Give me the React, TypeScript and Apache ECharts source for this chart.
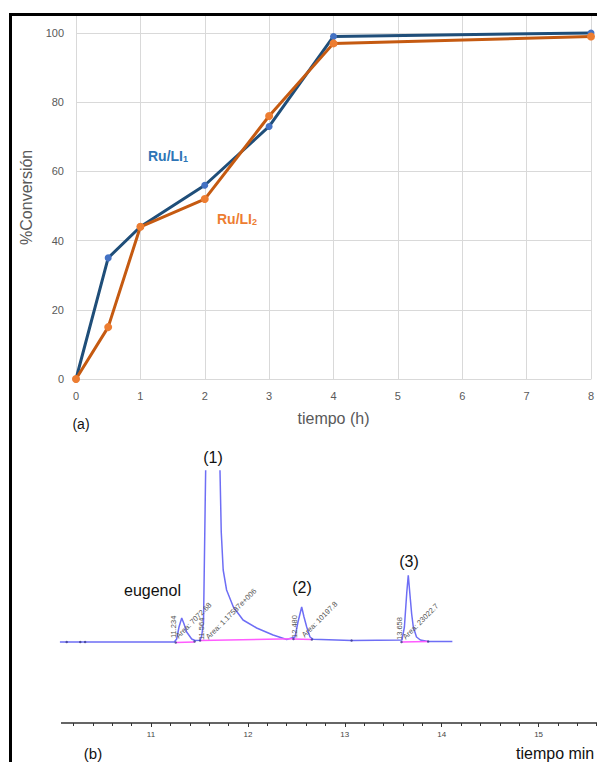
import React, { useEffect, useRef } from "react";
import * as echarts from "echarts";

// ---- Panel (a): conversion vs time ----
const timeHours = [0, 0.5, 1, 2, 3, 4, 8];
const conversionRuLI1 = [0, 35, 44, 56, 73, 99, 100];
const conversionRuLI2 = [0, 15, 44, 52, 76, 97, 99];
const seriesNames = ["Ru/LI1", "Ru/LI2"];

// ---- Panel (b): chromatogram (arbitrary signal units, baseline = 0) ----
const chromTime = [10.06, 11.24, 11.265, 11.289, 11.317, 11.341, 11.368, 11.42, 11.454, 11.506, 11.523, 11.542, 11.564, 11.64, 11.712, 11.725, 11.745, 11.78, 11.85, 11.95, 12.09, 12.26, 12.4, 12.486, 12.517, 12.555, 12.579, 12.607, 12.641, 12.675, 13.07, 13.59, 13.615, 13.64, 13.655, 13.67, 13.69, 13.707, 13.74, 13.78, 13.86, 14.11];
const chromSignal = [0, 0, 3, 15, 24, 18, 10, 3, 1.5, 1.7, 6, 20, 171, 700, 171, 110, 72, 52, 35, 22, 14, 7, 2.5, 5, 20, 35, 25, 15, 5, 2.7, 1.5, 2, 15, 50, 66.7, 50, 28, 15, 5, 2, 0.5, 0.5];

// integration baselines (pink)
const baseStartTime = [11.255, 11.506, 12.47, 13.585];
const baseEndTime = [11.45, 12.47, 12.66, 13.86];
const baseStartLevel = [-0.5, 1.5, 3, 0];
const baseEndLevel = [0, 3.2, 2.5, 0.5];

// boundary dots
const dotTime = [10.13, 10.27, 10.32, 11.255, 11.45, 11.506, 12.47, 12.66, 13.07, 13.585, 13.86];
const dotSignal = [0, 0, 0, -0.5, 0.5, 1.5, 3, 2.5, 1.5, 0, 0.5];

// peak annotations
const peakLabels = ["(1)", "eugenol", "(2)", "(3)"];
const rtLabels = ["11.234", "11.564", "12.480", "13.658"];
const areaLabels = ["Area: 7072.68", "Area: 1.17587e+006", "Area: 10197.8", "Area: 23022.7"];

const FONT = "'Liberation Sans', Arial, sans-serif";

export default function App() {
  const ref = useRef<HTMLDivElement>(null);
  useEffect(() => {
    if (!ref.current) return;
    const chart = echarts.init(ref.current, undefined, { renderer: "svg" });

    const txt = (text: string, x: number, y: number, extra: any = {}, rot = 0) => ({
      type: "text",
      x,
      y,
      rotation: rot,
      z: 110,
      style: {
        text,
        fill: extra.fill || "#111",
        fontSize: extra.fontSize || 16,
        fontFamily: FONT,
        fontWeight: extra.fontWeight || "normal",
        align: extra.align || "center",
        verticalAlign: extra.verticalAlign || "middle",
      },
    });

    const annFill = "#555";
    const vert = Math.PI / 2;
    const diag = Math.PI / 4;

    const sub = (color: string) => ({
      m: { fontSize: 14, fontWeight: "bold", fill: color, color, fontFamily: FONT },
      s: { fontSize: 9, fontWeight: "bold", fill: color, color, fontFamily: FONT, padding: [6, 0, 0, 0] },
    });

    const option: any = {
      animation: false,
      backgroundColor: "#fff",
      textStyle: { fontFamily: FONT },
      grid: [
        { left: 76, right: 6, top: 15.7, bottom: 383, outerBoundsMode: "none", containLabel: false },
        { left: 54.1, width: 581.4, top: 471, bottom: 39, outerBoundsMode: "none", containLabel: false },
      ],
      xAxis: [
        {
          gridIndex: 0,
          type: "value",
          min: 0,
          max: 8,
          interval: 1,
          name: "tiempo (h)",
          nameLocation: "middle",
          nameGap: 31,
          nameTextStyle: { color: "#595959", fontSize: 16, fontFamily: FONT },
          axisLine: { show: true, lineStyle: { color: "#d9d9d9", width: 1 } },
          axisTick: { show: false },
          axisLabel: { color: "#595959", fontSize: 11, margin: 11, fontFamily: FONT },
          splitLine: { show: true, lineStyle: { color: "#d9d9d9", width: 1 } },
        },
        {
          gridIndex: 1,
          type: "value",
          min: 10,
          max: 16,
          interval: 1,
          axisLine: { show: true, onZero: false, lineStyle: { color: "#333", width: 1.5 } },
          axisTick: { show: true, length: 4, lineStyle: { color: "#333" } },
          minorTick: { show: true, splitNumber: 5, length: 3, lineStyle: { color: "#333" } },
          axisLabel: {
            fontSize: 8,
            color: "#444",
            margin: 7,
            fontFamily: FONT,
            formatter: (v: number) => (v >= 11 && v <= 15 ? String(v) : ""),
          },
          splitLine: { show: false },
        },
      ],
      yAxis: [
        {
          gridIndex: 0,
          type: "value",
          min: 0,
          max: 105,
          interval: 20,
          name: "%Conversión",
          nameLocation: "middle",
          nameGap: 35,
          nameRotate: 90,
          nameTextStyle: { color: "#595959", fontSize: 16, fontFamily: FONT },
          axisLine: { show: false },
          axisTick: { show: false },
          axisLabel: {
            color: "#595959",
            fontSize: 11,
            margin: 12,
            fontFamily: FONT,
            formatter: (v: number) => (v > 100 ? "" : String(v)),
          },
          splitLine: { show: true, lineStyle: { color: "#d9d9d9", width: 1 } },
        },
        { gridIndex: 1, type: "value", min: -81, max: 171, show: false },
      ],
      series: [
        {
          name: seriesNames[0],
          type: "line",
          xAxisIndex: 0,
          yAxisIndex: 0,
          data: timeHours.map((t, i) => [t, conversionRuLI1[i]]),
          symbol: "circle",
          symbolSize: 7,
          lineStyle: { color: "#1F4E79", width: 3 },
          itemStyle: { color: "#4472C4" },
          z: 3,
        },
        {
          name: seriesNames[1],
          type: "line",
          xAxisIndex: 0,
          yAxisIndex: 0,
          data: timeHours.map((t, i) => [t, conversionRuLI2[i]]),
          symbol: "circle",
          symbolSize: 8,
          lineStyle: { color: "#C55A11", width: 3 },
          itemStyle: { color: "#ED7D31" },
          z: 4,
        },
        {
          name: "chromatogram",
          type: "line",
          xAxisIndex: 1,
          yAxisIndex: 1,
          data: chromTime.map((t, i) => [t, chromSignal[i]]),
          showSymbol: false,
          symbol: "none",
          clip: true,
          lineStyle: { color: "#6E6EF5", width: 1.5 },
          z: 3,
        },
        ...baseStartTime.map((t, i) => ({
          name: "baseline" + i,
          type: "line",
          xAxisIndex: 1,
          yAxisIndex: 1,
          data: [
            [t, baseStartLevel[i]],
            [baseEndTime[i], baseEndLevel[i]],
          ],
          symbol: "none",
          lineStyle: { color: "#FF5CFF", width: 1.5 },
          z: 4,
        })),
        {
          name: "dots",
          type: "scatter",
          xAxisIndex: 1,
          yAxisIndex: 1,
          data: dotTime.map((t, i) => [t, dotSignal[i]]),
          symbolSize: 2.5,
          itemStyle: { color: "#3a3a8a" },
          z: 5,
        },
      ],
      graphic: [
        { type: "line", z: 120, shape: { x1: 9, y1: 14.5, x2: 597, y2: 14.5 }, style: { stroke: "#000", lineWidth: 3 } },
        { type: "line", z: 120, shape: { x1: 10.5, y1: 13, x2: 10.5, y2: 762 }, style: { stroke: "#000", lineWidth: 3 } },
        { type: "rect", z: 100, shape: { x: 46, y: 712, width: 15, height: 22 }, style: { fill: "#fff" } },
        txt("(a)", 81, 424, { fontSize: 14 }),
        txt("(b)", 93, 753, { fontSize: 15 }),
        txt("tiempo min", 516, 753, { fontSize: 16, align: "left" }),
        txt(peakLabels[0], 213, 457, { fontSize: 16 }),
        txt(peakLabels[1], 124, 590, { fontSize: 16, align: "left" }),
        txt(peakLabels[2], 302, 587, { fontSize: 16 }),
        txt(peakLabels[3], 409, 561, { fontSize: 16 }),
        {
          type: "text",
          x: 148,
          y: 156,
          z: 110,
          style: { text: "{m|Ru/LI}{s|1}", rich: sub("#2E75B6"), verticalAlign: "middle", align: "left" },
        },
        {
          type: "text",
          x: 217,
          y: 219,
          z: 110,
          style: { text: "{m|Ru/LI}{s|2}", rich: sub("#ED7D31"), verticalAlign: "middle", align: "left" },
        },
        txt(rtLabels[0], 173, 638, { fontSize: 7.5, fill: annFill, align: "left" }, vert),
        txt(areaLabels[0], 177, 637, { fontSize: 7.5, fill: annFill, align: "left" }, diag),
        txt(rtLabels[1], 201, 640, { fontSize: 7.5, fill: annFill, align: "left" }, vert),
        txt(areaLabels[1], 207, 638, { fontSize: 7.5, fill: annFill, align: "left" }, diag),
        txt(rtLabels[2], 294, 638, { fontSize: 7.5, fill: annFill, align: "left" }, vert),
        txt(areaLabels[2], 303, 636, { fontSize: 7.5, fill: annFill, align: "left" }, diag),
        txt(rtLabels[3], 399, 640, { fontSize: 7.5, fill: annFill, align: "left" }, vert),
        txt(areaLabels[3], 404, 638, { fontSize: 7.5, fill: annFill, align: "left" }, diag),
      ],
    };

    chart.setOption(option);
    return () => chart.dispose();
  }, []);

  return (
    <div
      ref={ref}
      style={{ position: "fixed", left: 0, top: 0, width: 597, height: 762, background: "#fff" }}
    />
  );
}
